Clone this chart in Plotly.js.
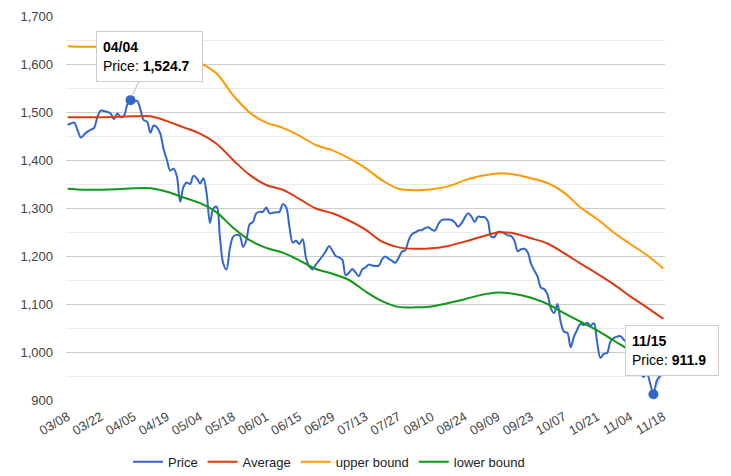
<!DOCTYPE html>
<html>
<head>
<meta charset="utf-8">
<script src="https://cdn.plot.ly/plotly-3.0.1.min.js"></script>
<style>html,body{margin:0;padding:0;background:#fff;}#chart{width:731px;height:476px;}</style>
</head>
<body>
<div id="chart"></div>
<script>
// Trading dates (categories)
const dates = [
"03/08","03/09","03/10","03/11","03/14","03/15","03/16","03/17","03/18","03/21",
"03/22","03/23","03/24","03/25","03/28","03/29","03/30","03/31","04/01","04/04",
"04/05","04/06","04/07","04/08","04/11","04/12","04/13","04/14","04/15","04/18",
"04/19","04/20","04/21","04/22","04/25","04/26","04/27","04/28","04/29","05/03",
"05/04","05/05","05/06","05/09","05/10","05/11","05/12","05/13","05/16","05/17",
"05/18","05/19","05/20","05/23","05/24","05/25","05/26","05/27","05/30","05/31",
"06/01","06/02","06/03","06/06","06/07","06/08","06/09","06/10","06/13","06/14",
"06/15","06/16","06/17","06/20","06/21","06/22","06/23","06/24","06/27","06/28",
"06/29","06/30","07/01","07/04","07/05","07/06","07/07","07/08","07/11","07/12",
"07/13","07/14","07/15","07/18","07/19","07/20","07/21","07/22","07/25","07/26",
"07/27","07/28","07/29","08/01","08/02","08/03","08/04","08/05","08/08","08/09",
"08/10","08/11","08/12","08/15","08/16","08/17","08/18","08/19","08/22","08/23",
"08/24","08/25","08/26","08/30","08/31","09/01","09/02","09/06","09/07","09/08",
"09/09","09/12","09/13","09/14","09/15","09/16","09/19","09/20","09/21","09/22",
"09/23","09/26","09/27","09/28","09/29","09/30","10/03","10/04","10/05","10/06",
"10/07","10/10","10/11","10/12","10/13","10/14","10/17","10/18","10/19","10/20",
"10/21","10/24","10/25","10/26","10/27","10/28","10/31","11/01","11/02","11/03",
"11/04","11/07","11/08","11/09","11/10","11/11","11/14","11/15","11/16","11/17",
"11/18"];

// Price, one value per trading date
const price = [
1473,1476,1478,1462,1447,1453,1459,1463,1467,1490,
1503,1502,1500,1497,1485,1497,1489,1492,1515,1524.7,
1522,1523,1505,1483,1480,1457,1472,1468,1455,1422,
1400,1378,1382,1366,1313,1344,1353,1350,1367,1362,
1351,1362,1330,1269,1299,1303,1240,1185,1172,1215,
1240,1244,1242,1219,1233,1266,1271,1289,1292,1292,
1301,1289,1290,1291,1292,1308,1302,1262,1228,1232,
1225,1235,1197,1178,1172,1182,1191,1200,1210,1221,
1211,1200,1197,1192,1160,1165,1173,1166,1158,1172,
1176,1182,1180,1179,1180,1193,1199,1194,1190,1186,
1196,1209,1212,1232,1245,1249,1253,1254,1258,1260,
1255,1253,1266,1275,1276,1276,1275,1270,1261,1268,
1280,1289,1282,1271,1282,1281,1281,1272,1240,1240,
1250,1250,1247,1243,1242,1232,1210,1214,1215,1208,
1184,1170,1157,1134,1131,1120,1091,1081,1100,1062,
1042,1040,1010,1032,1047,1059,1056,1061,1055,1060,
1020,988,996,998,1022,1029,1032,1033,1026,1020,
1018,1005,985,960,948,955,935,911.9,940,950,
955];

// Band series, sampled every 5th trading date
const average = [1489,1489,1489,1490,1491,1491,1481,1468,1455,1434,
1400,1369,1348,1338,1319,1299,1289,1274,1255,1230,
1218,1215,1216,1221,1230,1240,1249,1247,1237,1226,
1206,1184,1163,1141,1116,1093,1069];
const upperBound = [1637,1636,1636,1637,1638,1638,1630,1618,1603,1580,
1535,1499,1478,1467,1451,1431,1420,1404,1383,1358,
1340,1337,1339,1345,1358,1367,1372,1370,1362,1352,
1332,1301,1277,1249,1225,1202,1174];
const lowerBound = [1340,1338,1338,1339,1341,1341,1334,1322,1310,1291,
1259,1233,1217,1207,1191,1173,1163,1150,1126,1106,
1094,1093,1095,1102,1110,1119,1124,1121,1113,1100,
1081,1063,1045,1024,1003,984,964];

const tickLabels = ["03/08","03/22","04/05","04/19","05/04","05/18","06/01","06/15","06/29",
"07/13","07/27","08/10","08/24","09/09","09/23","10/07","10/21","11/04","11/18"];

const selectedDates = ["04/04","11/15"];

const bandDates = dates.filter((d, i) => i % 5 === 0);
const selY = selectedDates.map(d => price[dates.indexOf(d)]);

const FONT = "Arial, 'Liberation Sans', sans-serif";

function lineTrace(name, x, y, color) {
  return {type:'scatter', mode:'lines', name:name, x:x, y:y,
    line:{color:color, width:2, shape:'spline', smoothing:1}, hoverinfo:'skip'};
}

const traces = [
  lineTrace('Price', dates, price, '#3366cc'),
  lineTrace('Average', bandDates, average, '#dc3912'),
  lineTrace('upper bound', bandDates, upperBound, '#ff9900'),
  lineTrace('lower bound', bandDates, lowerBound, '#109618'),
  {type:'scatter', mode:'markers', x:selectedDates, y:selY, showlegend:false,
   marker:{color:'#3366cc', size:10}, hoverinfo:'skip'}
];

function fmt(v){ return v.toLocaleString('en-US',{minimumFractionDigits:1, maximumFractionDigits:1}); }

const annotations = selectedDates.map((d, i) => ({
  x: d, y: selY[i], xref:'x', yref:'y',
  text: '<b>' + d + '</b><br>Price: <b>' + fmt(selY[i]) + '</b>',
  showarrow:true, arrowhead:0, arrowwidth:1, arrowcolor:'#bbbbbb',
  ax:19, ay:-44, standoff:6,
  bgcolor:'#ffffff', bordercolor:'#cccccc', borderwidth:1, borderpad:6,
  align:'left', width: i === 0 ? 93 : 80, height:37,
  font:{family:FONT, size:14, color:'#000'}
}));

const layout = {
  width:731, height:476,
  margin:{l:66, r:66, t:16, b:76, autoexpand:false},
  paper_bgcolor:'#fff', plot_bgcolor:'#fff',
  font:{family:FONT, size:13, color:'#444'},
  showlegend:true,
  legend:{orientation:'h', x:0.1035, xanchor:'left', y:-0.161, yanchor:'middle',
    font:{family:FONT, size:13, color:'#222'}, itemwidth:30, traceorder:'normal'},
  xaxis:{type:'category', categoryorder:'array', categoryarray:dates,
    range:[-0.5, dates.length - 0.5], tickvals:tickLabels, ticktext:tickLabels,
    tickangle:-30, showgrid:false, zeroline:false, showline:false, ticks:'',
    automargin:false,
    ticklabelstandoff:6, tickfont:{family:FONT, size:13, color:'#444'}},
  yaxis:{range:[900,1700], dtick:100, tick0:900, tickformat:',', showgrid:true,
    automargin:false,
    gridcolor:'#cccccc', gridwidth:1, zeroline:false, showline:false, ticks:'',
    ticklabelstandoff:12, tickfont:{family:FONT, size:13, color:'#444'},
    minor:{dtick:50, tick0:900, showgrid:true, gridcolor:'#ebebeb', gridwidth:1}},
  annotations:annotations
};

Plotly.newPlot('chart', traces, layout, {displayModeBar:false, staticPlot:true});
</script>
</body>
</html>
